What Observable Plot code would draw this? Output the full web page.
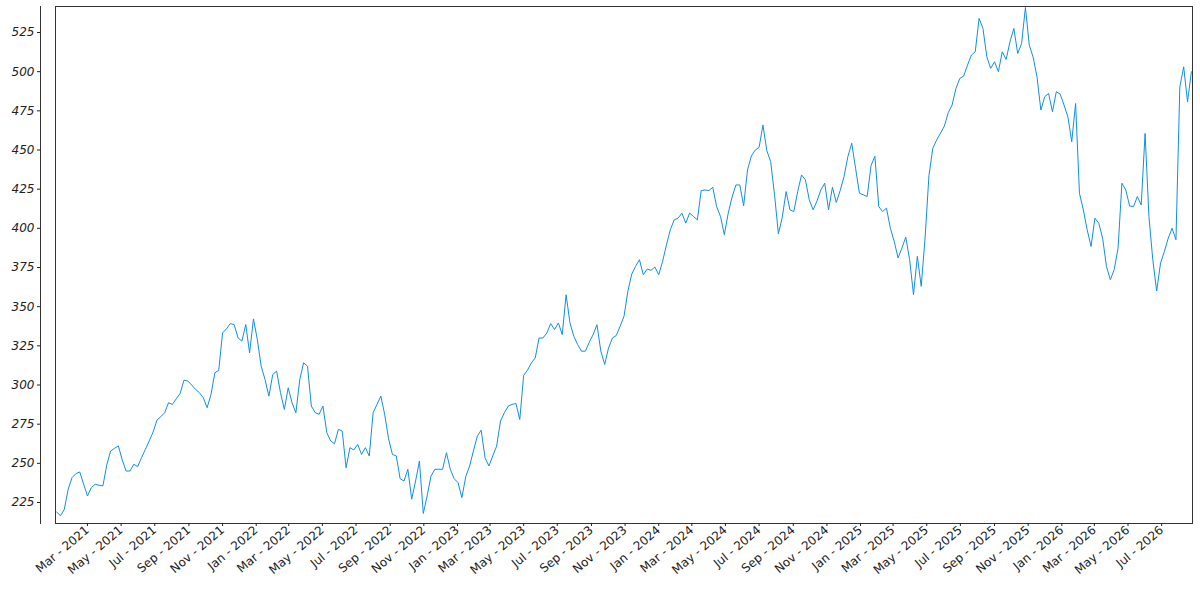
<!DOCTYPE html>
<html><head><meta charset="utf-8">
<script src="https://cdn.jsdelivr.net/npm/d3@7"></script>
<script src="https://cdn.jsdelivr.net/npm/@observablehq/plot@0.6"></script>
<style>
body{margin:0;background:#fff;}
#chart svg [aria-label="y-axis tick label"] text{font-style:italic;}
</style>
</head><body><div id="chart"></div>
<script>
// Weekly closing values, starting on the first trading week of 2021
const startDate = "2021-01-04";
const stepDays = 7;
const close2021 = [219.0,216.5,220.7,233.5,240.9,243.4,244.5,236.7,229.2,234.5,236.7,236.0,235.6,249.0,257.9,259.6,261.1,252.2,245.1,245.1,249.4,247.9,253.6,258.9,264.3,270.0,277.6,279.8,282.3,288.7,287.6,291.2,294.6,303.1,302.5,300.0,297.2,295.1,291.9,285.5,294.0,307.8,309.3,333.3,335.8,339.2,338.6,330.1,328.0,338.6,320.5,342.2];
const close2022 = [329.0,312.0,303.5,292.9,306.7,308.9,295.1,284.4,298.2,288.7,282.3,303.5,314.2,312.0,286.6,282.3,281.3,286.6,269.6,264.3,262.5,271.7,270.6,247.2,260.0,258.5,262.1,255.7,260.0,254.7,282.3,287.6,292.9,281.2,265.7,255.7,254.7,240.2,238.7,246.2,227.1,238.7,251.5,218.0,229.2,241.9,246.2,246.2,246.2,256.8,246.2,240.2];
const close2023 = [237.7,228.1,241.5,248.3,258.0,267.4,271.2,253.6,248.3,254.7,261.0,277.0,282.3,286.5,287.6,288.2,278.0,306.1,309.5,314.1,317.3,330.0,330.0,333.2,339.2,335.4,339.6,332.2,357.6,339.6,331.1,325.8,321.6,321.6,327.3,332.2,338.5,321.6,313.1,323.7,330.0,331.6,337.5,343.9,359.8,370.8,375.7,380.0,370.4,374.0,373.2,375.3];
const close2024 = [370.4,378.9,389.5,399.1,405.4,406.5,409.7,403.3,409.7,407.6,405.4,424.1,424.5,424.1,426.2,413.9,407.6,395.9,409.7,419.9,427.7,427.7,414.4,437.3,446.2,450.0,451.7,465.9,449.6,442.6,421.4,396.5,407.1,423.5,411.8,410.7,423.5,434.1,430.9,418.2,411.8,417.5,424.5,428.8,411.8,426.2,416.5,424.1,433.0,445.8,454.3,438.3,422.4];
const close2025 = [421.4,420.3,440.0,446.0,413.9,410.7,412.9,400.1,391.7,381.1,387.4,394.4,380.0,357.7,382.1,363.0,393.8,433.5,451.1,456.4,460.7,465.3,473.8,478.7,489.3,495.7,497.2,504.2,510.6,512.7,534.0,527.6,509.5,502.1,506.3,500.0,512.7,507.8,519.1,527.6,511.6,518.0,541.0,516.9,509.2,496.7,475.5,484.0,486.1,474.4,487.2,485.7];
const close2026 = [478.7,471.2,455.3,479.7,422.4,411.8,399.1,388.4,406.5,403.3,393.7,375.7,367.2,373.6,387.4,428.8,424.5,414.3,413.9,420.3,415.0,460.6,407.5,379.9,360.0,377.8,385.2,393.7,400.1,392.7,490.3,503.1,480.8,500.0];

const yTicks = [225,250,275,300,325,350,375,400,425,450,475,500,525];
const xDomain = ["2021-01-02","2026-08-26"];
const yDomain = [211.6,541.6];

const closes = [].concat(close2021, close2022, close2023, close2024, close2025, close2026);
const data = closes.map((v, i) => ({date: d3.utcDay.offset(new Date(startDate), i * stepDays), close: v}));

const chart = Plot.plot({
  width: 1200,
  height: 600,
  marginLeft: 55,
  marginRight: 8,
  marginTop: 6,
  marginBottom: 77,
  style: {fontFamily: "DejaVu Sans", fontSize: "12px", background: "white", color: "#222"},
  x: {type: "utc", domain: xDomain.map(d => new Date(d))},
  y: {domain: yDomain},
  marks: [
    Plot.frame({stroke: "#333"}),
    Plot.frame({anchor: "left", dx: -15, stroke: "#333"}),
    Plot.axisY({ticks: yTicks, tickSize: 3, tickPadding: 3, dx: -15, label: null, fontStyle: "italic", tickFormat: d => String(d)}),
    Plot.axisX({ticks: d3.utcMonth.every(2), tickFormat: d3.utcFormat("%b - %Y"), tickRotate: -40, tickSize: 3, tickPadding: 2, label: null}),
    Plot.line(data, {x: "date", y: "close", stroke: "#128ee6", strokeWidth: 1})
  ]
});
document.getElementById("chart").appendChild(chart);
</script>
</body></html>
